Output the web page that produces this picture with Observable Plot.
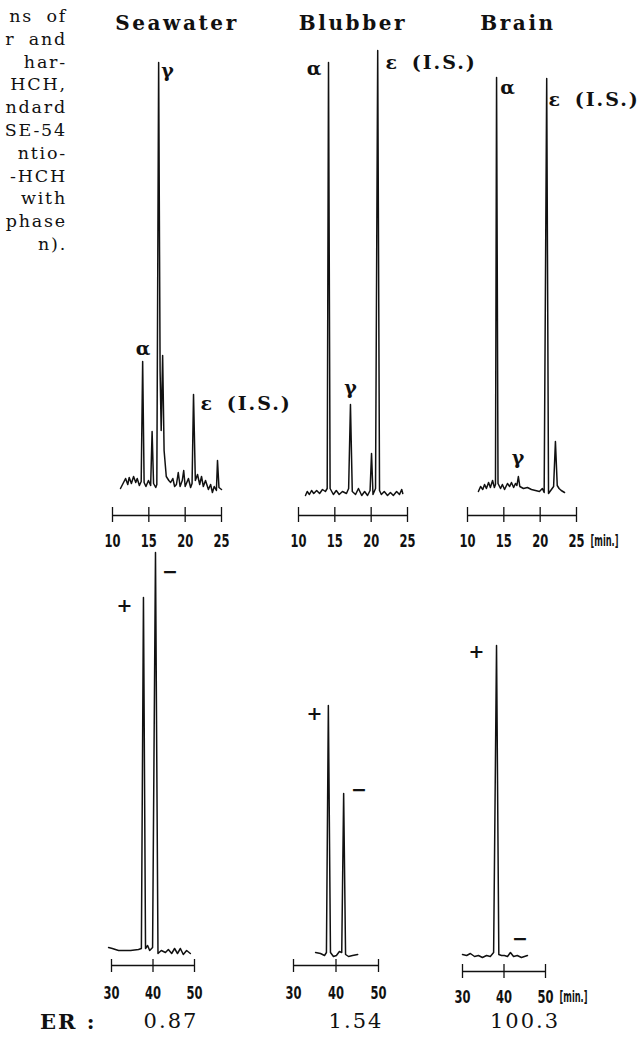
<!DOCTYPE html>
<html><head><meta charset="utf-8">
<script src="https://cdn.jsdelivr.net/npm/d3@7"></script>
<script src="https://cdn.jsdelivr.net/npm/@observablehq/plot@0.6"></script>
<style>
body{margin:0;background:#fff;}
#page{position:relative;width:642px;height:1051px;overflow:hidden;background:#fff;color:#111;}
.hdr{position:absolute;font-family:"DejaVu Serif",serif;font-weight:bold;font-size:20px;letter-spacing:2.6px;transform:translateX(-50%);white-space:nowrap;line-height:1;}
.er{position:absolute;font-family:"DejaVu Serif",serif;font-size:21px;letter-spacing:2px;white-space:nowrap;line-height:1;}
#caption{position:absolute;left:0;top:5px;width:67px;overflow:hidden;font-family:"DejaVu Serif",serif;font-size:17.5px;letter-spacing:1.8px;word-spacing:6px;line-height:22.8px;}
#caption div{white-space:nowrap;text-align:right;}
</style></head>
<body><div id="page"></div>
<script>
// ---------- data ----------
const samples = ["Seawater", "Blubber", "Brain"];
const erLabel = "ER :";
const erValues = ["0.87", "1.54", "100.3"];
const captionLines = ["ns of", "r and", "har-", "HCH,", "ndard", "SE-54", "ntio-", "-HCH", "with", "phase", "n)."];
const topTicks = [10, 15, 20, 25];
const bottomTicks = [30, 40, 50];
const unitLabel = "[min.]";
const isLabel = "ε (I.S.)";

// traces: [retention time (min), detector signal]
const seawaterTop = [[11.1,2],[11.8,12],[12.1,6],[12.3,13],[12.6,7],[12.9,14],[13.2,8],[13.4,12],[13.7,5],[13.95,9],[14.15,129],[14.35,8],[14.6,4],[14.95,10],[15.25,5],[15.45,59],[15.65,7],[15.95,3],[16.1,6],[16.35,428],[16.55,120],[16.7,60],[16.9,135],[17.1,40],[17.4,14],[17.75,10],[18.0,8],[18.3,12],[18.55,4],[18.8,6],[19.05,18],[19.3,4],[19.6,10],[19.8,20],[20.0,4],[20.45,12],[20.75,3],[20.95,7],[21.15,96],[21.4,10],[21.7,16],[22.0,6],[22.25,14],[22.5,4],[22.8,10],[23.2,1],[23.5,6],[23.75,-2],[24.0,4],[24.3,0],[24.45,30],[24.65,3],[25.0,1]];
const blubberTop = [[10.96,-5],[11.2,-1],[11.5,-4],[11.8,0],[12.1,-3],[12.5,0],[12.9,-3],[13.3,1],[13.7,-1],[13.95,2],[14.13,428],[14.35,2],[14.8,-4],[15.2,0],[15.6,-4],[16.05,-1],[16.6,-3],[16.9,2],[17.15,86],[17.4,-1],[17.85,-4],[18.25,2],[18.7,-5],[19.1,-1],[19.5,-5],[19.85,0],[20.05,37],[20.25,-4],[20.6,2],[20.9,440],[21.15,0],[21.4,-4],[21.8,-1],[22.25,-5],[22.65,-2],[23.05,-5],[23.5,-1],[23.9,-4],[24.2,1],[24.35,-3]];
const brainTop = [[11.5,-1],[11.8,4],[12.1,1],[12.35,6],[12.6,2],[12.9,8],[13.15,3],[13.45,10],[13.7,3],[13.85,6],[14.0,413],[14.2,7],[14.55,2],[14.8,6],[15.1,1],[15.5,7],[15.8,4],[16.05,8],[16.35,3],[16.6,7],[16.8,5],[17.0,14],[17.2,4],[17.7,2],[18.25,3],[18.8,1],[19.35,0],[19.9,-1],[20.3,2],[20.55,-2],[20.9,412],[21.15,-3],[21.55,1],[21.85,4],[22.1,49],[22.35,5],[22.6,2],[22.9,0],[23.35,-2]];
const seawaterBottom = [[29.3,8],[30.2,7],[31.7,5],[33.1,5],[34.6,5],[36.5,6],[37.2,7],[37.7,358],[38.2,7],[38.7,10],[39.2,5],[39.9,8],[40.6,403],[41.2,2],[42.0,5],[43.0,3],[43.7,6],[44.5,2],[45.2,7],[45.9,2],[46.6,7],[47.3,1],[48.1,5],[49.0,2]];
const blubberBottom = [[35.2,3],[36.35,2],[37.3,0],[37.75,3],[38.2,250],[38.7,3],[39.4,-1],[40.1,0],[40.8,4],[41.35,3],[41.8,162],[42.25,1],[42.95,-1],[43.9,0],[45.1,1]];
const brainBottom = [[30.0,1],[31.0,0],[31.9,2],[32.9,-1],[33.85,0],[34.8,-2],[35.8,0],[36.7,-1],[37.5,3],[38.2,310],[38.75,1],[39.4,0],[40.1,0],[40.85,-1],[41.55,3],[42.3,-1],[43.2,0],[44.2,-2],[45.65,0]];

// peak labels: [time, signal, text]
const seawaterTopLabels = [[17.57,420,"γ"],[14.2,142,"α"]];
const blubberTopLabels = [[12.13,422,"α"],[17.16,103,"γ"]];
const brainTopLabels = [[15.5,403,"α"],[16.95,33,"γ"]];
const seawaterBottomLabels = [[33.13,350,"+"],[44.1,384,"−"]];
const blubberBottomLabels = [[34.94,242,"+"],[45.4,166,"−"]];
const brainBottomLabels = [[33.37,304,"+"],[43.86,17,"−"]];
// internal-standard label start: [time, signal]
const seawaterIS = [22.11, 87];
const blubberIS = [21.97, 428];
const brainIS = [21.15, 391];

// ---------- layout ----------
const page = document.getElementById("page");
const tickFont = "'Liberation Sans Narrow','DejaVu Sans Condensed','Arial Narrow',sans-serif";
const labelFont = "'DejaVu Serif',serif";

const topRow = {top: 30, height: 520, marginBottom: 15, yMax: 460, axisV: -25, tick1: -17, tick2: -32, labelV: -51};
const botRow = {top: 550, height: 460, marginBottom: 25, yMax: 405};

const panels = [
  {trace: seawaterTop, labels: seawaterTopLabels, is: seawaterIS, ticks: topTicks, row: topRow, left: 100, width: 210, mL: 12, mR: 89},
  {trace: blubberTop, labels: blubberTopLabels, is: blubberIS, ticks: topTicks, row: topRow, left: 290, width: 210, mL: 8, mR: 93},
  {trace: brainTop, labels: brainTopLabels, is: brainIS, ticks: topTicks, row: topRow, left: 460, width: 182, mL: 7, mR: 66, unit: true},
  {trace: seawaterBottom, labels: seawaterBottomLabels, ticks: bottomTicks, row: {...botRow, axisV: -10, tick1: -4, tick2: -17, labelV: -38}, left: 100, width: 110, mL: 11, mR: 16},
  {trace: blubberBottom, labels: blubberBottomLabels, ticks: bottomTicks, row: {...botRow, axisV: -10, tick1: -4, tick2: -17, labelV: -38}, left: 290, width: 110, mL: 3, mR: 22},
  {trace: brainBottom, labels: brainBottomLabels, ticks: bottomTicks, row: {...botRow, axisV: -16, tick1: -9, tick2: -23, labelV: -42}, left: 450, width: 192, mL: 12, mR: 97, unit: true}
];

for (const p of panels) {
  const r = p.row;
  const data = p.trace.map(([t, v]) => ({t, v}));
  const labs = p.labels.map(([t, v, text]) => ({t, v, text}));
  const t0 = p.ticks[0], t1 = p.ticks[p.ticks.length - 1];
  const yMin = r.yMax - (r.height - r.marginBottom);
  const marks = [
    Plot.line(data, {x: "t", y: "v", stroke: "#111", strokeWidth: 1.5, strokeLinejoin: "round"}),
    Plot.ruleY([r.axisV], {x1: () => t0, x2: () => t1, stroke: "#111", strokeWidth: 1.3}),
    Plot.ruleX(p.ticks, {x: d => d, y1: () => r.tick1, y2: () => r.tick2, stroke: "#111", strokeWidth: 1.3}),
    Plot.text(p.ticks, {x: d => d, y: () => r.labelV, text: d => String(d), fontFamily: tickFont, fontWeight: "bold", fontSize: 18, fill: "#111"}),
    Plot.text(labs, {x: "t", y: "v", text: "text", fontFamily: labelFont, fontWeight: "bold", fontSize: 19, fill: "#111"})
  ];
  if (p.is) marks.push(Plot.text([p.is], {x: d => d[0], y: d => d[1], text: () => isLabel, textAnchor: "start", fontFamily: labelFont, fontWeight: "bold", fontSize: 19, fill: "#111"}));
  if (p.unit) marks.push(Plot.text([t1], {x: d => d, y: () => r.labelV, text: () => unitLabel, dx: 14, textAnchor: "start", fontFamily: tickFont, fontWeight: "bold", fontSize: 15, fill: "#111"}));
  const svg = Plot.plot({
    width: p.width, height: r.height,
    marginLeft: p.mL, marginRight: p.mR, marginTop: 0, marginBottom: r.marginBottom,
    x: {domain: [t0, t1], axis: null},
    y: {domain: [yMin, r.yMax], axis: null},
    style: {background: "transparent", overflow: "visible"},
    marks
  });
  const tickSet = new Set(p.ticks.map(String));
  svg.querySelectorAll("text").forEach(t => {
    const s = t.textContent;
    if (s === isLabel) { t.style.letterSpacing = "2px"; t.style.wordSpacing = "4px"; }
    else if (tickSet.has(s)) { t.setAttribute("textLength", 8 * s.length); t.setAttribute("lengthAdjust", "spacingAndGlyphs"); }
    else if (s === unitLabel) { t.setAttribute("textLength", 28); t.setAttribute("lengthAdjust", "spacingAndGlyphs"); }
  });
  svg.style.position = "absolute";
  svg.style.left = p.left + "px";
  svg.style.top = r.top + "px";
  page.appendChild(svg);
}

// headers
const hdrX = [177, 353, 518];
samples.forEach((s, i) => {
  const d = document.createElement("div");
  d.className = "hdr"; d.textContent = s;
  d.style.left = hdrX[i] + "px"; d.style.top = "13px";
  page.appendChild(d);
});
// ER row
const erX = [171, 356, 525];
const erl = document.createElement("div");
erl.className = "er"; erl.style.fontWeight = "bold"; erl.textContent = erLabel;
erl.style.left = "40px"; erl.style.top = "1011px";
page.appendChild(erl);
erValues.forEach((s, i) => {
  const d = document.createElement("div");
  d.className = "er"; d.textContent = s;
  d.style.left = erX[i] + "px"; d.style.top = "1011px"; d.style.transform = "translateX(-50%)";
  page.appendChild(d);
});
// caption fragment
const cap = document.createElement("div");
cap.id = "caption";
captionLines.forEach(s => { const d = document.createElement("div"); d.textContent = s; cap.appendChild(d); });
page.appendChild(cap);
</script>
</body></html>
